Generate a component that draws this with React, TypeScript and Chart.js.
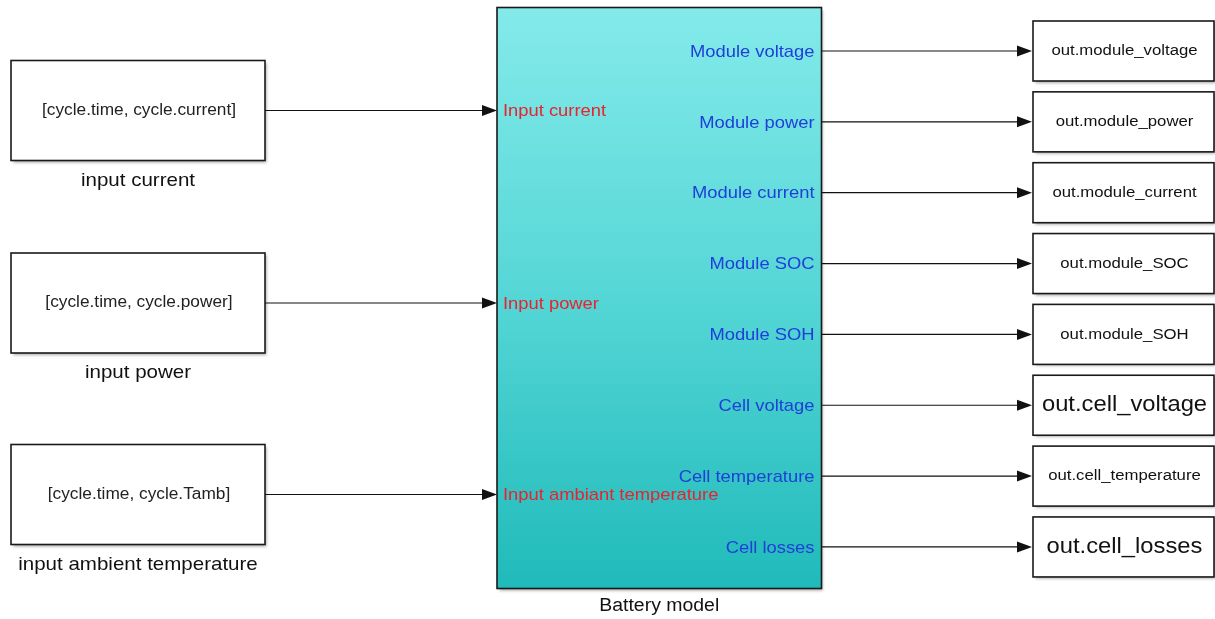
import React, { useEffect, useRef } from "react";
import { Chart, registerables } from "chart.js";

Chart.register(...registerables);

// ---- content (text) ----
const inputSources = ["[cycle.time, cycle.current]", "[cycle.time, cycle.power]", "[cycle.time, cycle.Tamb]"];
const inputNames = ["input current", "input power", "input ambient temperature"];
const inputPorts = ["Input current", "Input power", "Input ambiant temperature"];
const outputPorts = [
  "Module voltage",
  "Module power",
  "Module current",
  "Module SOC",
  "Module SOH",
  "Cell voltage",
  "Cell temperature",
  "Cell losses",
];
const outputSinks = [
  "out.module_voltage",
  "out.module_power",
  "out.module_current",
  "out.module_SOC",
  "out.module_SOH",
  "out.cell_voltage",
  "out.cell_temperature",
  "out.cell_losses",
];
const outputSinkFontSizes = [15.5, 15.5, 15.5, 15.5, 15.5, 22, 15.5, 22];
const blockName = "Battery model";

// ---- layout (diagram units, same as canvas px) ----
const W = 1215;
const H = 619;
const LAYOUT = {
  inBoxX0: 11, inBoxX1: 265, inBoxH: 100,
  inY: [110.5, 303, 494.5],
  blockX0: 497, blockX1: 821.5, blockY0: 7.5, blockY1: 588.5,
  outY0: 51, outDY: 70.85,
  outBoxX0: 1033, outBoxX1: 1214, outBoxH: 60,
  arrowLen: 15, arrowHalf: 5.5,
};
const STRETCH = 1.08;

const FONT = "'Liberation Sans', Arial, Helvetica, sans-serif";

const diagramPlugin = {
  id: "diagram",
  afterDraw(chart: any) {
    const ctx: CanvasRenderingContext2D = chart.ctx;
    const xs = chart.scales.x;
    const ys = chart.scales.y;
    const px = (v: number) => xs.getPixelForValue(v);
    const py = (v: number) => ys.getPixelForValue(v);
    const L = LAYOUT;

    const box = (x0: number, y0: number, x1: number, y1: number, fill: string | CanvasGradient) => {
      ctx.save();
      ctx.shadowColor = "rgba(0,0,0,0.35)";
      ctx.shadowOffsetX = 1.5;
      ctx.shadowOffsetY = 2;
      ctx.shadowBlur = 3;
      ctx.fillStyle = fill;
      ctx.fillRect(px(x0), py(y0), px(x1) - px(x0), py(y1) - py(y0));
      ctx.restore();
      ctx.save();
      ctx.strokeStyle = "#1a1a1a";
      ctx.lineWidth = 1.6;
      ctx.strokeRect(px(x0), py(y0), px(x1) - px(x0), py(y1) - py(y0));
      ctx.restore();
    };
    const arrow = (x0: number, x1: number, y: number) => {
      ctx.save();
      ctx.strokeStyle = "#111";
      ctx.fillStyle = "#111";
      ctx.lineWidth = 1.2;
      ctx.beginPath();
      ctx.moveTo(px(x0), py(y));
      ctx.lineTo(px(x1 - L.arrowLen + 2), py(y));
      ctx.stroke();
      ctx.beginPath();
      ctx.moveTo(px(x1), py(y));
      ctx.lineTo(px(x1 - L.arrowLen), py(y - L.arrowHalf));
      ctx.lineTo(px(x1 - L.arrowLen), py(y + L.arrowHalf));
      ctx.closePath();
      ctx.fill();
      ctx.restore();
    };
    const text = (s: string, x: number, y: number, size: number, color: string, align: CanvasTextAlign) => {
      ctx.save();
      ctx.font = `${size}px ${FONT}`;
      ctx.fillStyle = color;
      ctx.textAlign = align;
      ctx.textBaseline = "middle";
      ctx.translate(px(x), py(y));
      ctx.scale(STRETCH, 1);
      ctx.fillText(s, 0, 0);
      ctx.restore();
    };

    // Battery block with gradient
    const g = ctx.createLinearGradient(0, py(L.blockY0), 0, py(L.blockY1));
    g.addColorStop(0, "#84EAEA");
    g.addColorStop(0.5, "#55D6D6");
    g.addColorStop(1, "#20BABA");
    box(L.blockX0, L.blockY0, L.blockX1, L.blockY1, g);
    text(blockName, (L.blockX0 + L.blockX1) / 2, L.blockY1 + 18, 18, "#111", "center");

    // Inputs
    inputSources.forEach((src, i) => {
      const cy = L.inY[i];
      box(L.inBoxX0, cy - L.inBoxH / 2, L.inBoxX1, cy + L.inBoxH / 2, "#ffffff");
      text(src, (L.inBoxX0 + L.inBoxX1) / 2 + 1, cy, 16, "#222", "center");
      text(inputNames[i], (L.inBoxX0 + L.inBoxX1) / 2, cy + L.inBoxH / 2 + 20, 19, "#111", "center");
      arrow(L.inBoxX1, L.blockX0, cy);
      text(inputPorts[i], L.blockX0 + 6, cy + 1, 17, "#E8222E", "left");
    });

    // Outputs
    outputPorts.forEach((port, i) => {
      const cy = L.outY0 + i * L.outDY;
      text(port, L.blockX1 - 7, cy + 1, 17, "#1F3FD8", "right");
      arrow(L.blockX1, L.outBoxX0 - 1, cy);
      box(L.outBoxX0, cy - L.outBoxH / 2, L.outBoxX1, cy + L.outBoxH / 2, "#ffffff");
      text(outputSinks[i], (L.outBoxX0 + L.outBoxX1) / 2 + 1, cy, outputSinkFontSizes[i], "#111", "center");
    });
  },
};

export default function App() {
  const ref = useRef<HTMLCanvasElement | null>(null);
  useEffect(() => {
    if (!ref.current) return;
    const chart = new Chart(ref.current, {
      type: "scatter",
      data: { datasets: [{ data: [], pointRadius: 0 }] },
      options: {
        responsive: false,
        animation: false,
        layout: { padding: 0 },
        plugins: { legend: { display: false }, tooltip: { enabled: false } },
        scales: {
          x: { type: "linear", min: 0, max: W, display: false },
          y: { type: "linear", min: 0, max: H, reverse: true, display: false },
        },
      },
      plugins: [diagramPlugin],
    });
    return () => chart.destroy();
  }, []);
  return (
    <div style={{ position: "fixed", left: 0, top: 0, width: W, height: H, background: "#fff" }}>
      <canvas ref={ref} width={W} height={H} style={{ width: W, height: H, display: "block" }} />
    </div>
  );
}
